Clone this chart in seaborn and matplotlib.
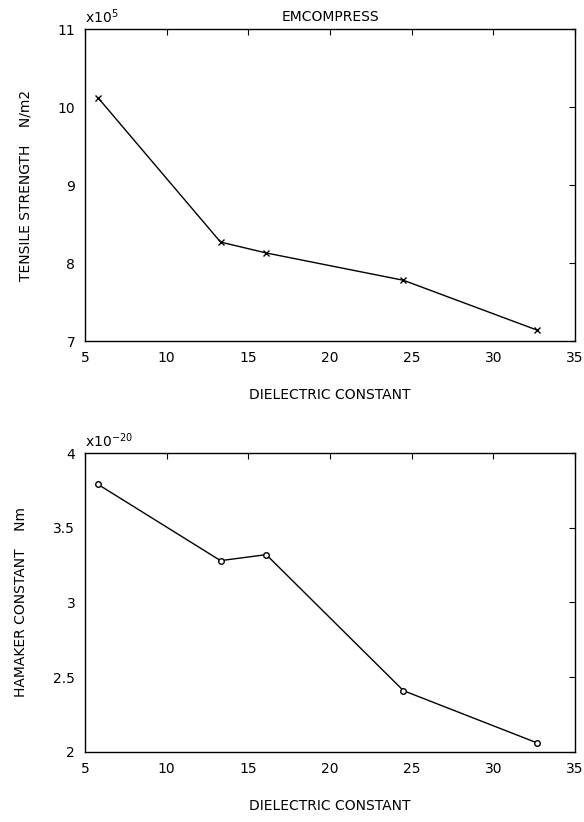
import matplotlib
matplotlib.use("Agg")
import matplotlib.pyplot as plt
import pandas as pd
import seaborn as sns

# dielectric constant of the binding medium
dielectric = [5.8, 13.3, 16.1, 24.5, 32.7]
# tensile strength, x10^5 N/m2
tensile = [10.12, 8.27, 8.13, 7.78, 7.14]
# hamaker constant, x10^-20 Nm
hamaker = [3.79, 3.28, 3.32, 2.41, 2.06]

x_ticks = [5, 10, 15, 20, 25, 30, 35]
tensile_ticks = [7, 8, 9, 10, 11]
hamaker_ticks = [2, 2.5, 3, 3.5, 4]


def style_axes(ax, yticks, ylabel, scale, ylabelpad):
    ax.set_xlim(5, 35)
    ax.set_ylim(yticks[0], yticks[-1])
    ax.set_xticks(x_ticks)
    ax.set_xticklabels([str(t) for t in x_ticks])
    ax.set_yticks(yticks)
    ax.set_yticklabels(['{:g}'.format(t) for t in yticks])
    ax.tick_params(direction='in', length=4, width=0.8, top=True, right=True,
                   labelsize=10, pad=7, colors='black')
    for sp in ax.spines.values():
        sp.set_linewidth(1.0)
        sp.set_color('black')
    ax.set_xlabel('DIELECTRIC CONSTANT', fontsize=10, labelpad=17, color='black')
    ax.set_ylabel(ylabel, fontsize=10, labelpad=ylabelpad, color='black')
    ax.text(0.0, 1.01, scale, transform=ax.transAxes, fontsize=10,
            ha='left', va='bottom', color='black')


def make_plots():
    sns.set_style("white")
    plt.rcParams['font.family'] = ['DejaVu Sans']

    fig = plt.figure(figsize=(5.84, 8.22), dpi=100)
    ax1 = fig.add_axes([0.1455, 0.585, 0.839, 0.3796])
    ax2 = fig.add_axes([0.1455, 0.0852, 0.839, 0.3637])

    top = pd.DataFrame({'dielectric': dielectric, 'value': tensile})
    sns.lineplot(data=top, x='dielectric', y='value', ax=ax1, color='black',
                 linewidth=1.0, marker='x', markersize=4, markeredgewidth=1.0,
                 markeredgecolor='black')
    style_axes(ax1, tensile_ticks, 'TENSILE STRENGTH    N/m2', 'x10$^{5}$', 18)
    ax1.set_title('EMCOMPRESS', fontsize=10, pad=6, color='black')

    bottom = pd.DataFrame({'dielectric': dielectric, 'value': hamaker})
    sns.lineplot(data=bottom, x='dielectric', y='value', ax=ax2, color='black',
                 linewidth=1.0, marker='o', markersize=4, markeredgewidth=1.0,
                 markerfacecolor='white', markeredgecolor='black')
    style_axes(ax2, hamaker_ticks, 'HAMAKER CONSTANT    Nm', 'x10$^{-20}$', 18)

    fig.savefig('out.png', dpi=100)
    plt.close(fig)


make_plots()
